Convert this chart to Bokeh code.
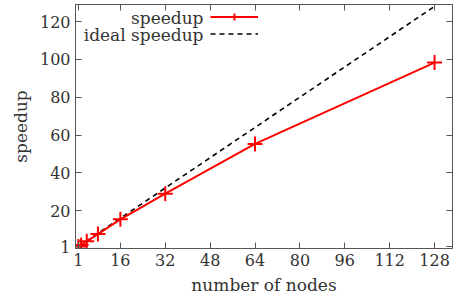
from bokeh.plotting import figure
from bokeh.models import Range1d, LinearAxis, FixedTicker, Legend, LegendItem, Label, CustomLabelingPolicy
from bokeh.embed import file_html
from bokeh.resources import INLINE

nodes = [1, 2, 4, 8, 16, 32, 64, 128]
speedup = [1.0, 1.9, 3.8, 7.6, 15.4, 29.0, 55.3, 98.3]
ideal_nodes = [1, 128]
ideal_speedup = [1, 128]
x_ticks = [1, 16, 32, 48, 64, 80, 96, 112, 128]
y_ticks = [1, 20, 40, 60, 80, 100, 120]
series_labels = ["speedup", "ideal speedup"]

FONT = "DejaVu Serif"
FS_TICK = "16px"
FS = "17px"
AX = "#555555"
TXT = "#333333"

p = figure(width=457, height=297,
           x_range=Range1d(0, 134.4), y_range=Range1d(0, 129),
           output_backend="svg", toolbar_location=None,
           min_border_left=75, min_border_right=2, min_border_top=0, min_border_bottom=49,
           x_axis_label="number of nodes", y_axis_label="speedup")
p.grid.visible = False
p.outline_line_color = AX
p.outline_line_width = 1

for ax, ticks in ((p.xaxis[0], x_ticks), (p.yaxis[0], y_ticks)):
    ax.ticker = FixedTicker(ticks=ticks)
    ax.minor_tick_line_color = None
    ax.major_tick_in = 6
    ax.major_tick_out = 0
    ax.major_tick_line_color = AX
    ax.axis_line_color = AX
    ax.major_label_text_font = FONT
    ax.major_label_text_font_size = FS_TICK
    ax.major_label_text_color = TXT
    ax.axis_label_text_font = FONT
    ax.axis_label_text_font_size = FS
    ax.axis_label_text_font_style = "normal"
    ax.axis_label_text_color = TXT
    ax.major_label_standoff = 5
    ax.axis_label_standoff = 6

hide = CustomLabelingPolicy(code="""
try { return new indices.constructor(indices.size, 0) } catch (e) { return indices }
""")
for loc, ticks in (("above", x_ticks), ("right", y_ticks)):
    ax = LinearAxis(ticker=FixedTicker(ticks=ticks))
    ax.minor_tick_line_color = None
    ax.major_tick_in = 6
    ax.major_tick_out = 0
    ax.major_tick_line_color = AX
    ax.axis_line_color = None
    ax.major_label_text_font_size = "1px"
    ax.major_label_standoff = 0
    ax.major_label_policy = hide
    p.add_layout(ax, loc)

r_ideal = p.line(ideal_nodes, ideal_speedup, line_color="black", line_width=1.6, line_dash="5 4")
r_sp = p.line(nodes, speedup, line_color="#ff0000", line_width=2)
r_pts = p.scatter(nodes, speedup, marker="cross", size=15, line_color="#ff0000", line_width=2)

legend = Legend(items=[LegendItem(label="", renderers=[r_sp, r_pts]),
                       LegendItem(label="", renderers=[r_ideal])],
                location=(135, 206), glyph_width=48, glyph_height=17, label_height=17,
                label_width=0, label_standoff=0, spacing=0, padding=0, margin=0,
                border_line_color=None, background_fill_alpha=0)
p.add_layout(legend)

for i, txt in enumerate(series_labels):
    p.add_layout(Label(x=128, y=231 - 17 * i, x_units="screen", y_units="screen", text=txt,
                       text_align="right", text_baseline="middle", text_font=FONT,
                       text_font_size=FS, text_color=TXT))

open("out.html", "w").write(file_html(p, INLINE))
